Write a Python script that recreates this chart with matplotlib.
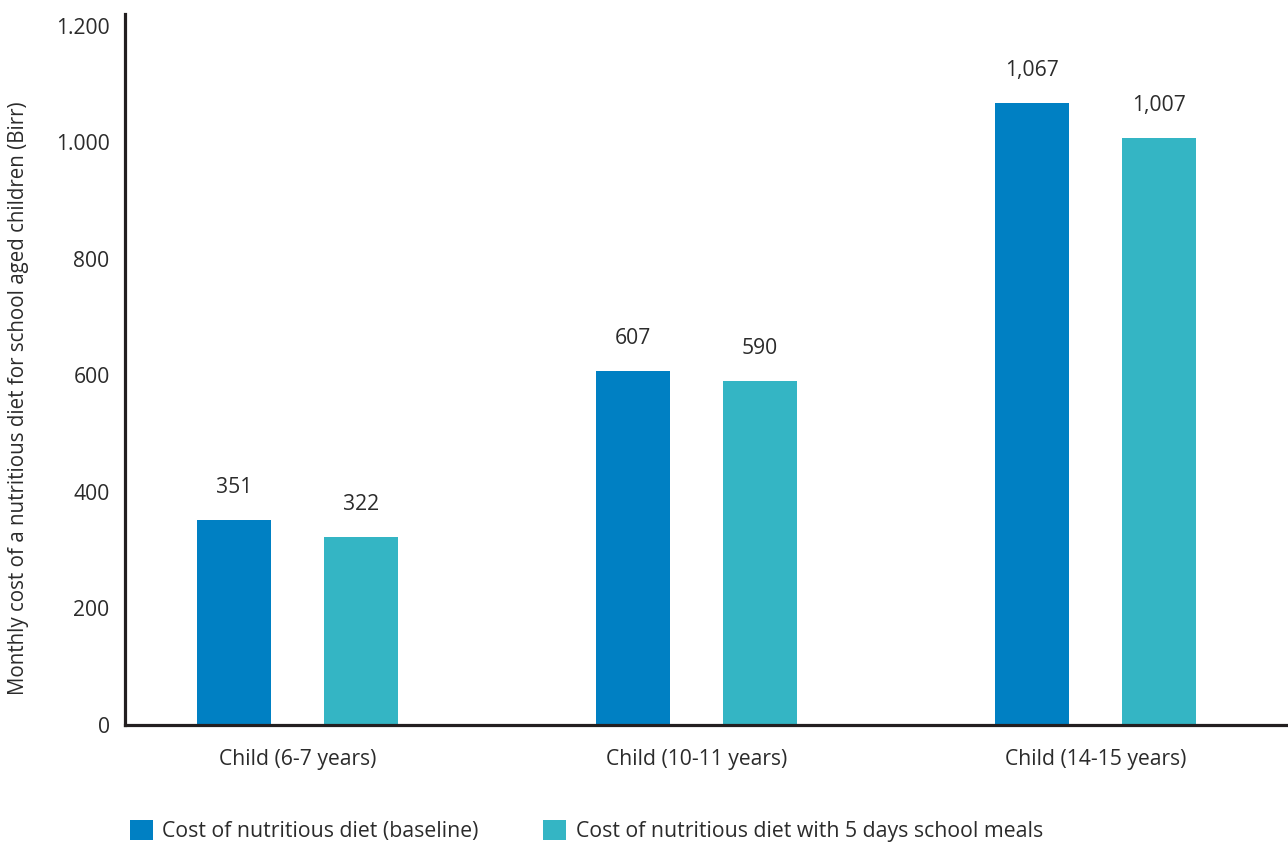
import matplotlib
matplotlib.use("Agg")
import matplotlib.pyplot as plt
from matplotlib.patches import Patch
from matplotlib.ticker import FuncFormatter
import numpy as np

categories = ["Child (6-7 years)", "Child (10-11 years)", "Child (14-15 years)"]
baseline = [351, 607, 1067]
school_meals = [322, 590, 1007]
series_names = ["Cost of nutritious diet (baseline)",
                "Cost of nutritious diet with 5 days school meals"]
y_ticks = [0, 200, 400, 600, 800, 1000, 1200]

BLUE = "#0080C3"
TEAL = "#34B5C4"
TEXT = "#2b2b2b"
FS = 15.2

plt.rcParams["font.family"] = ["Open Sans", "DejaVu Sans"]
plt.rcParams["text.color"] = TEXT

fig = plt.figure(figsize=(12.88, 8.42), dpi=100)
ax = fig.add_axes([125 / 1288, 117 / 842, 1 - 125 / 1288, (725 - 14) / 842])

x = np.arange(len(categories))
w = 0.1855
off = 0.159
b1 = ax.bar(x - off, baseline, width=w, color=BLUE, zorder=2)
b2 = ax.bar(x + off, school_meals, width=w, color=TEAL, zorder=2)

for bars, vals in ((b1, baseline), (b2, school_meals)):
    for rect, v in zip(bars, vals):
        ax.annotate(f"{v:,}", (rect.get_x() + rect.get_width() / 2, v),
                    xytext=(0, 16), textcoords="offset points",
                    ha="center", va="bottom", fontsize=FS, color=TEXT)

ax.set_xlim(-0.432, 2.482)
ax.set_ylim(0, 1220)
ax.set_xticks(x)
ax.set_xticklabels(categories)
ax.set_yticks(y_ticks)
ax.yaxis.set_major_formatter(FuncFormatter(lambda v, p: f"{int(v):,}".replace(",", ".")))
ax.tick_params(axis="both", length=0, labelsize=FS, colors=TEXT)
ax.tick_params(axis="x", pad=17)
ax.tick_params(axis="y", pad=11)

for s in ("top", "right"):
    ax.spines[s].set_visible(False)
for s in ("left", "bottom"):
    ax.spines[s].set_linewidth(2.3)
    ax.spines[s].set_color("#231f20")

ax.set_ylabel("Monthly cost of a nutritious diet for school aged children (Birr)",
              fontsize=14.8, color=TEXT)
ax.yaxis.set_label_coords(-(125 - 29) / (1288 - 125), 0.46)

handles = [Patch(facecolor=BLUE), Patch(facecolor=TEAL)]
fig.legend(handles, series_names, loc="center left",
           bbox_to_anchor=(130 / 1288, 1 - 831 / 842), ncol=2, frameon=False,
           fontsize=15.3, handlelength=1.07, handleheight=1.07,
           handletextpad=0.45, columnspacing=3.05, borderpad=0, borderaxespad=0)

fig.savefig("out.png", dpi=100)
